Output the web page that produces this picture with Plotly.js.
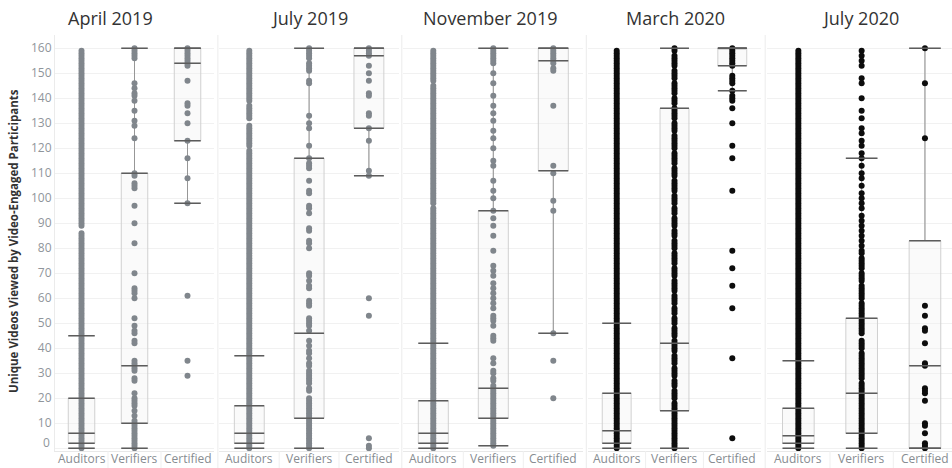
<!DOCTYPE html>
<html>
<head>
<meta charset="utf-8">
<script src="https://cdn.plot.ly/plotly-3.0.1.min.js"></script>
<style>
  html, body { margin: 0; padding: 0; background: #ffffff; }
  #chart { width: 952px; height: 468px; }
</style>
</head>
<body>
<div id="chart"></div>
<script>
// Learner groups shown in every period panel
const groups = ['Auditors', 'Verifiers', 'Certified'];
const periods = ['April 2019', 'July 2019', 'November 2019', 'March 2020', 'July 2020'];

// Box statistics per period (Auditors, Verifiers, Certified)
const lowerFence = [[0, 0, 98], [0, 0, 109], [0, 1, 46], [0, 0, 143], [0, 0, 0]];
const quartile1 = [[2, 10, 123], [2, 12, 128], [2, 12, 111], [2, 15, 153], [2, 6, 0]];
const medians = [[6, 33, 154], [6, 46, 157], [6, 24, 155], [7, 42, 160], [5, 22, 33]];
const quartile3 = [[20, 110, 160], [17, 116, 160], [19, 95, 160], [22, 136, 160], [16, 52, 83]];
const upperFence = [[45, 160, 160], [37, 160, 160], [42, 160, 160], [50, 160, 160], [35, 116, 160]];

// Unique videos viewed, one value per plotted participant mark
const apr19Auditors = [0,1,2,3,4,5,6,7,8,9,10,11,12,13,14,15,16,17,18,19,20,21,22,23,24,25,26,27,28,29,30,31,32,33,34,35,36,37,38,39,40,41,42,43,44,45,46,47,48,49,50,51,52,53,54,55,56,57,58,59,60,61,62,63,64,65,66,67,68,69,70,71,72,73,74,75,76,77,78,79,80,81,82,83,84,85,86,89,90,91,92,93,94,95,96,97,98,99,100,101,102,103,104,105,106,107,108,109,110,111,112,113,114,115,116,117,118,119,120,121,122,123,124,125,126,127,128,129,130,131,132,133,134,135,136,137,138,139,140,141,142,143,144,145,146,147,148,149,150,151,152,153,154,155,156,157,158,159];
const apr19Verifiers = [160,159,158,157,156,146,144,142,141,139,135,131,129,124,110,109,106,105,104,97,90,82,70,64,63,62,60,52,49,47,46,43,42,35,34,33,32,31,28,27,22,20,19,18,17,15,13,11,10,9,8,7,6,5,4,3,2,1,0];
const apr19Certified = [160,159,158,157,156,155,154,153,147,138,137,134,130,123,116,108,98,61,35,29];

const jul19Auditors = [0,1,2,3,4,5,6,7,8,9,10,11,12,13,14,15,16,17,18,19,20,21,22,23,24,25,26,27,28,29,30,31,32,33,34,35,36,37,38,39,40,41,42,43,44,45,46,47,48,49,50,51,52,53,54,55,56,57,58,59,60,61,62,63,64,65,66,67,68,69,70,71,72,73,74,75,76,77,78,79,80,81,82,83,84,85,86,87,88,89,90,91,92,93,94,95,96,97,98,99,100,101,102,103,104,105,106,107,108,109,110,111,112,113,114,115,116,117,118,119,121,122,123,124,125,126,127,128,129,132,133,134,135,136,137,139,140,141,142,143,144,145,146,147,148,149,150,151,152,153,154,155,156,157,158,159];
const jul19Verifiers = [160,159,158,157,156,154,153,152,151,147,146,133,130,128,121,116,114,113,112,107,103,102,97,96,94,88,87,83,82,80,70,69,67,65,64,59,58,57,52,51,50,49,47,43,41,39,38,36,34,33,31,30,29,28,27,26,24,23,20,19,18,17,16,15,14,13,12,11,10,9,8,7,6,5,4,3,2,1,0];
const jul19Certified = [160,159,158,157,153,150,147,142,141,134,133,128,123,111,109,60,53,4,1,0];

const nov19Auditors = [0,1,2,3,4,5,6,7,8,9,10,11,12,13,14,15,16,17,18,19,20,21,22,23,24,25,26,27,28,29,30,31,32,33,34,35,36,37,38,39,40,41,42,43,44,45,46,47,48,49,50,51,52,53,54,55,56,57,58,59,60,61,62,63,64,65,66,67,68,69,70,71,72,73,74,75,76,77,78,79,80,81,82,83,84,85,86,87,88,89,90,91,92,93,94,95,96,98,99,100,101,102,103,104,105,106,107,108,109,110,111,112,113,114,115,116,117,118,119,120,121,122,123,124,125,126,127,128,129,130,131,132,133,134,135,136,137,138,139,140,141,142,143,144,145,147,148,149,150,151,152,153,154,155,156,157,158,159];
const nov19Verifiers = [160,159,158,157,156,155,154,150,146,141,137,134,131,127,124,120,115,113,107,103,100,95,92,89,85,79,73,71,69,66,64,62,60,58,56,53,52,51,49,45,44,43,36,34,31,30,28,27,25,24,23,22,21,20,19,18,17,16,15,14,13,12,11,10,9,8,7,6,5,4,3,2,1];
const nov19Certified = [160,159,158,157,156,155,154,152,151,137,113,110,99,95,46,35,20];

const mar20Auditors = [0,1,2,3,4,5,6,7,8,9,10,11,12,13,14,15,16,17,18,19,20,21,22,23,24,25,26,27,28,29,30,31,32,33,34,35,36,37,38,39,40,41,42,43,44,45,46,47,48,49,50,51,52,53,54,55,56,57,58,59,60,61,62,63,64,65,66,67,68,69,70,71,72,73,74,75,76,77,78,79,80,81,82,83,84,85,86,87,88,89,90,91,92,93,94,95,96,97,98,99,100,101,102,103,104,105,106,107,108,109,110,111,112,113,114,115,116,117,118,119,120,121,122,123,124,125,126,127,128,129,130,131,132,133,134,135,136,137,138,139,140,141,142,143,144,145,146,147,148,149,150,151,152,153,154,155,156,157,158,159];
const mar20Verifiers = [160,159,157,156,155,154,153,151,150,149,148,146,145,144,143,142,140,139,138,136,135,134,133,132,130,129,128,127,125,124,123,122,121,120,118,117,116,115,114,112,111,110,109,107,106,105,104,103,101,100,99,98,96,95,94,92,91,90,89,87,86,85,83,82,81,80,78,77,76,75,74,72,71,70,69,67,66,65,64,63,61,60,59,58,56,55,54,52,51,50,48,47,46,45,43,42,41,40,39,37,36,35,34,32,31,30,29,27,26,25,23,22,21,20,18,17,16,15,14,13,12,11,10,9,8,7,6,5,4,3,2,1,0];
const mar20Certified = [160,159,158,157,156,155,154,153,149,148,147,146,143,141,140,139,136,130,121,116,103,79,72,65,56,36,4];

const jul20Auditors = [0,1,2,3,4,5,6,7,8,9,10,11,12,13,14,15,16,17,18,19,20,21,22,23,24,25,26,27,28,29,30,31,32,33,34,35,36,37,38,39,40,41,42,43,44,45,46,47,48,49,50,51,52,53,54,55,56,57,58,59,60,61,62,63,64,65,66,67,68,69,70,71,72,73,74,75,76,77,78,79,80,81,82,83,84,85,86,87,88,89,90,91,92,93,94,95,96,97,98,99,100,101,102,103,104,105,106,107,108,109,110,111,112,113,114,115,116,117,118,119,120,121,122,123,124,125,126,127,128,129,130,131,132,133,134,135,136,137,138,139,140,141,142,143,144,145,146,147,148,149,150,151,152,153,154,155,156,157,158,159];
const jul20Verifiers = [159,157,155,153,148,146,140,135,132,128,126,123,121,118,116,113,110,108,105,102,100,98,96,93,91,89,87,85,83,81,79,78,76,75,74,73,72,70,69,68,67,65,64,63,62,61,60,58,57,56,55,54,53,52,51,50,49,48,47,46,43,42,41,40,38,37,36,35,34,33,32,31,30,29,28,26,25,24,23,22,21,20,19,18,17,16,15,14,13,12,11,10,9,8,7,6,5,4,3,2,1,0];
const jul20Certified = [160,146,124,57,53,48,47,42,34,33,24,23,22,19,10,9,6,2,1,0];

const pointsByPeriod = [
  [apr19Auditors, apr19Verifiers, apr19Certified],
  [jul19Auditors, jul19Verifiers, jul19Certified],
  [nov19Auditors, nov19Verifiers, nov19Certified],
  [mar20Auditors, mar20Verifiers, mar20Certified],
  [jul20Auditors, jul20Verifiers, jul20Certified]
];
const markColors = ['#80868c', '#80868c', '#80868c', '#0d0d0d', '#0d0d0d'];

// Page geometry (pixels)
const W = 952, H = 468;
const panelLeft = [55, 219.4, 403.3, 587.8, 766.7];
const columnWidth = [53, 59.8, 60, 57.8, 63.3];
const titleCenter = [110, 309, 490, 675, 860];
const paneTop = 35, paneBottom = 451;
const halfBox = 0.25;
const FONT = '"Open Sans", "Noto Sans", sans-serif';

const traces = [];
const layout = {
  width: W, height: H,
  margin: {l: 0, r: 0, t: 0, b: 0},
  paper_bgcolor: '#ffffff', plot_bgcolor: '#ffffff',
  showlegend: false, hovermode: false,
  font: {family: FONT},
  annotations: [], shapes: []
};

const yTicks = [0,10,20,30,40,50,60,70,80,90,100,110,120,130,140,150,160];
layout.yaxis = {
  domain: [(H - paneBottom) / H, (H - paneTop) / H],
  range: [-1.1, 165.3],
  tickvals: yTicks,
  ticktext: yTicks.map(v => v === 0 ? '' : String(v)),
  ticks: '',
  showgrid: true, gridcolor: '#f1f1f1', gridwidth: 1,
  zeroline: false, showline: true, linecolor: '#ebebeb',
  tickfont: {family: FONT, size: 12, color: '#8f959b'},
  automargin: false, fixedrange: true
};

periods.forEach((period, p) => {
  const n = p + 1;
  const xa = n === 1 ? 'x' : 'x' + n;
  const left = panelLeft[p];
  const right = Math.min(W, left + 3 * columnWidth[p]);
  layout[n === 1 ? 'xaxis' : 'xaxis' + n] = {
    domain: [left / W, right / W],
    range: [-0.5, -0.5 + (right - left) / columnWidth[p]],
    tickvals: [0, 1, 2], showticklabels: false, ticks: '',
    showgrid: false, zeroline: false,
    showline: true, linecolor: '#e8e8e8',
    anchor: 'y', automargin: false, fixedrange: true
  };

  // boxes from the precomputed statistics
  traces.push({
    type: 'box', xaxis: xa, yaxis: 'y', orientation: 'v',
    x: [0, 1, 2],
    q1: quartile1[p], median: medians[p], q3: quartile3[p],
    lowerfence: lowerFence[p], upperfence: upperFence[p],
    boxpoints: false, width: 0.5, whiskerwidth: 1,
    line: {color: '#d0d0d0', width: 1},
    fillcolor: 'rgba(240,240,240,0.35)'
  });

  // whisker stems
  const wx = [], wy = [];
  groups.forEach((g, i) => {
    wx.push(i, i, null, i, i, null);
    wy.push(quartile3[p][i], upperFence[p][i], null, quartile1[p][i], lowerFence[p][i], null);
  });
  traces.push({
    type: 'scatter', mode: 'lines', xaxis: xa, yaxis: 'y',
    x: wx, y: wy, line: {color: '#979797', width: 1}
  });

  // participant marks stacked on each group's centre line
  groups.forEach((g, i) => {
    const vals = pointsByPeriod[p][i];
    traces.push({
      type: 'scatter', mode: 'markers', xaxis: xa, yaxis: 'y',
      x: vals.map(() => i), y: vals,
      marker: {color: markColors[p], size: 6, line: {width: 0}}
    });
  });

  // whisker caps, quartile and median rules
  const hx = [], hy = [];
  groups.forEach((g, i) => {
    [lowerFence[p][i], quartile1[p][i], medians[p][i], quartile3[p][i], upperFence[p][i]].forEach(v => {
      hx.push(i - halfBox, i + halfBox, null);
      hy.push(v, v, null);
    });
  });
  traces.push({
    type: 'scatter', mode: 'lines', xaxis: xa, yaxis: 'y',
    x: hx, y: hy, line: {color: '#5c5c5c', width: 1.5}
  });

  // group labels under each column
  groups.forEach((g, i) => {
    layout.annotations.push({
      xref: xa, yref: 'paper', x: i, y: 0,
      xanchor: 'center', yanchor: 'bottom', borderpad: 0,
      text: g, showarrow: false,
      font: {family: FONT, size: 12, color: '#878c91'}
    });
  });

  // period header
  layout.annotations.push({
    xref: 'paper', yref: 'paper',
    x: titleCenter[p] / W, y: 1 - 18 / H,
    xanchor: 'center', yanchor: 'middle',
    text: period, showarrow: false,
    font: {family: FONT, size: 18, color: '#333333', weight: 500}
  });

  // pane divider and header cell separators
  if (p > 0) {
    const dx = (left - 1.5) / W;
    layout.shapes.push({
      type: 'line', xref: 'paper', yref: 'paper',
      x0: dx, x1: dx, y0: 0, y1: (H - paneTop) / H,
      line: {color: '#ececec', width: 1}
    });
  }
  [1, 2].forEach(k => {
    const sx = (left + k * columnWidth[p]) / W;
    layout.shapes.push({
      type: 'line', xref: 'paper', yref: 'paper',
      x0: sx, x1: sx, y0: 0, y1: (H - paneBottom) / H,
      line: {color: '#efefef', width: 1}
    });
  });
});

// bottom tick label, lifted to sit inside the pane
layout.annotations.push({
  xref: 'paper', yref: 'y', x: 52 / W, y: 2.2,
  xanchor: 'right', yanchor: 'middle', text: '0', showarrow: false,
  font: {family: FONT, size: 12, color: '#8f959b'}
});

// value axis title
layout.annotations.push({
  xref: 'paper', yref: 'paper', x: 14 / W, y: 1 - 241 / H,
  xanchor: 'center', yanchor: 'middle', textangle: -90,
  text: '<b>Unique Videos Viewed by Video-Engaged Participants</b>', showarrow: false,
  font: {family: FONT, size: 11.5, color: '#333333'}
});

Plotly.newPlot('chart', traces, layout, {displayModeBar: false, staticPlot: true});
</script>
</body>
</html>
